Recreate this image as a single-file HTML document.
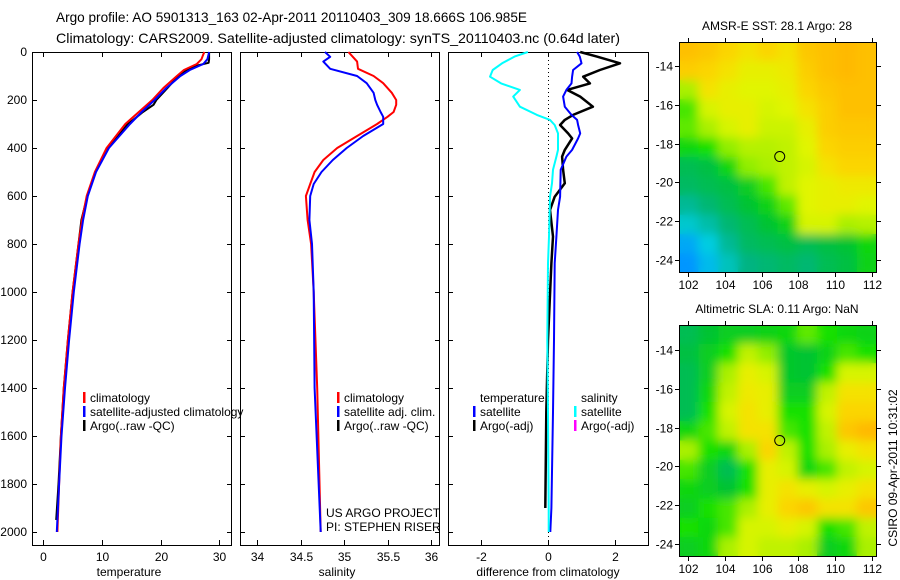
<!DOCTYPE html>
<html><head><meta charset="utf-8"><style>
html,body{margin:0;padding:0;background:#fff;}
svg{display:block;font-family:"Liberation Sans",sans-serif;}
</style></head><body>
<svg id="fig" width="900" height="580" viewBox="0 0 900 580" xmlns="http://www.w3.org/2000/svg">
<defs>
<filter id="blur" x="0" y="0" width="1" height="1"><feGaussianBlur stdDeviation="5" edgeMode="duplicate"/></filter>
<clipPath id="clipA"><rect x="679" y="42" width="198" height="231"/></clipPath>
<clipPath id="clipB"><rect x="679" y="325" width="198" height="232"/></clipPath>
</defs>
<text x="56" y="22" font-size="14" textLength="471" lengthAdjust="spacingAndGlyphs">Argo profile: AO 5901313_163 02-Apr-2011 20110403_309 18.666S 106.985E</text>
<text x="56" y="43" font-size="14" textLength="564" lengthAdjust="spacingAndGlyphs">Climatology: CARS2009. Satellite-adjusted climatology: synTS_20110403.nc (0.64d later)</text>
<g id="g"></g>
</svg>
<script>
// ---- data ----
const tempDepth = [0,10,30,50,75,100,150,200,250,300,400,500,600,700,800,1000,1200,1400,1600,1800,2000];
const tempClim = [27.5,27.3,27,26.2,24,22.8,20.5,18.6,16.3,14,10.8,8.8,7.4,6.6,6,5,4.2,3.5,3,2.7,2.4];
const tempSat = [28.3,28.2,28,27.3,25,23.4,21,19,16.8,14.8,11.2,9,7.6,6.8,6.2,5.2,4.4,3.7,3.1,2.7,2.3];
const argoDepth = [0,10,30,45,55,75,100,150,200,220,250,280,300,350,400,500,600,700,800,1000,1200,1400,1600,1800,1950];
const tempArgo = [28.3,28.3,28.3,28.2,26.5,24.5,23,21.2,19.3,18.8,17,15.5,14.4,12.8,11,8.9,7.5,6.5,6,5,4.2,3.5,3,2.6,2.2];
const salDepth = [0,20,40,70,100,130,170,200,220,250,270,300,350,400,450,500,550,600,700,800,1000,1400,2000];
const salClim = [35.05,35.1,35.15,35.16,35.34,35.45,35.55,35.6,35.6,35.57,35.5,35.38,35.15,34.92,34.76,34.66,34.61,34.56,34.58,34.62,34.65,34.69,34.73];
const salSat = [34.78,34.84,34.76,34.84,35.15,35.26,35.34,35.36,35.38,35.42,35.45,35.45,35.22,35.03,34.87,34.74,34.65,34.61,34.6,34.63,34.65,34.66,34.73];
const diffDepth = [0,19,47,75,103,131,158,186,228,262,283,304,339,360,408,436,491,547,603,658,769,880,1200,1500,1900,2000];
const diffSalSat = [-0.6,-1.0,-1.37,-1.65,-1.73,-1.4,-0.84,-1.04,-0.84,-0.33,0.06,0.2,0.3,0.3,0.3,0.25,0.15,0.12,0.06,0.05,0.03,0.0,-0.02,0.0,0.02,0.02];
const diffTempSat = [0.87,0.95,1.0,0.75,0.72,0.7,0.55,0.45,0.5,0.7,0.87,0.9,0.96,0.9,0.72,0.55,0.38,0.37,0.36,0.3,0.25,0.2,0.18,0.15,0.1,0.07];
const diffTempArgo = [0.96,1.46,2.15,1.55,1.05,1.25,0.57,0.96,1.34,0.75,0.5,0.36,0.6,0.72,0.5,0.42,0.45,0.5,0.2,0.06,0.15,0.1,0.0,-0.05,-0.08,null];
const depthTicks = [0,200,400,600,800,1000,1200,1400,1600,1800,2000];
const tempTicks = [0,10,20,30];
const salTicks = [34,34.5,35,35.5,36];
const salTickLabels = ["34","34.5","35","35.5","36"];
const diffTicks = [-2,0,2];
const latTicks = [-14,-16,-18,-20,-22,-24];
const lonTicks = [102,104,106,108,110,112];
const sstGrid = [
[.69,.68,.66,.64,.66,.64,.68,.69,.70,.69],
[.67,.66,.64,.62,.62,.63,.67,.69,.70,.69],
[.56,.64,.62,.61,.61,.62,.66,.68,.69,.69],
[.52,.60,.62,.62,.60,.61,.64,.67,.69,.69],
[.53,.56,.60,.62,.59,.59,.62,.67,.68,.68],
[.48,.50,.55,.57,.57,.58,.61,.66,.67,.67],
[.42,.43,.48,.55,.56,.58,.60,.64,.66,.66],
[.41,.42,.43,.46,.52,.58,.61,.62,.63,.63],
[.38,.40,.42,.44,.47,.53,.61,.62,.62,.61],
[.35,.37,.40,.42,.44,.47,.60,.60,.56,.57],
[.30,.34,.38,.41,.42,.43,.42,.43,.44,.48],
[.28,.32,.36,.39,.40,.41,.40,.42,.43,.47]];
const slaGrid = [
[.42,.44,.46,.46,.47,.48,.53,.50,.48,.47],
[.43,.46,.50,.58,.55,.45,.44,.47,.52,.50],
[.42,.46,.56,.62,.60,.45,.44,.50,.60,.60],
[.42,.48,.58,.63,.62,.46,.46,.58,.64,.64],
[.42,.50,.60,.64,.62,.50,.50,.60,.66,.66],
[.48,.52,.58,.64,.64,.52,.50,.58,.68,.70],
[.56,.50,.48,.56,.66,.58,.50,.56,.62,.64],
[.52,.46,.42,.50,.62,.60,.48,.52,.58,.60],
[.48,.46,.44,.50,.62,.64,.62,.60,.62,.64],
[.46,.50,.52,.56,.62,.66,.68,.64,.64,.68],
[.50,.48,.52,.60,.60,.62,.60,.50,.52,.58],
[.46,.48,.56,.60,.58,.58,.56,.46,.48,.56]];
const argoLon = 106.985, argoLat = -18.666;

// ---- drawing ----
const NS = "http://www.w3.org/2000/svg";
const G = document.getElementById('g');
function mk(tag, attrs, parent) {
  const e = document.createElementNS(NS, tag);
  for (const k in attrs) e.setAttribute(k, attrs[k]);
  (parent || G).appendChild(e);
  return e;
}
const top0 = 52, bot0 = 545;
const yD = d => 52 + d * 0.24;
const xT = t => 43.3 + t * 5.86;
const xS = s => 257.3 + (s - 34) * 86.8;
const xDf = v => 548 + v * 33.5;

function panel(name, x0, x1) {
  const r = mk('rect', {x:x0+0.5, y:top0+0.5, width:x1-x0, height:bot0-top0, fill:'none', stroke:'#000', 'stroke-width':1});
  
  
  depthTicks.forEach(d => {
    const y = Math.round(yD(d)) + 0.5;
    const t1 = mk('line', {x1:x0, x2:x0+5, y1:y, y2:y, stroke:'#000'});
    
    
    const t2 = mk('line', {x1:x1-4, x2:x1+1, y1:y, y2:y, stroke:'#000'});
    
    
  });
}
function xticks(ticks, labels, fx, xlabel, cx) {
  ticks.forEach((v, i) => {
    const x = Math.round(fx(v)) + 0.5;
    const a = mk('line', {x1:x, x2:x, y1:bot0, y2:bot0-5, stroke:'#000'});
    
    
    const b = mk('line', {x1:x, x2:x, y1:top0, y2:top0+5, stroke:'#000'});
    
    
    const t = mk('text', {x:x, y:561, 'font-size':12, 'text-anchor':'middle'});
    t.textContent = labels[i];
    
    
  });
  const l = mk('text', {x:cx, y:576, 'font-size':12, 'text-anchor':'middle'});
  l.textContent = xlabel;
  
  
}
function series(name, depths, vals, fx, color, w) {
  let d = '';
  vals.forEach((v, i) => {
    if (v === null) return;
    d += (d ? 'L' : 'M') + fx(v).toFixed(1) + ',' + yD(depths[i]).toFixed(1);
  });
  const p = mk('path', {d:d, fill:'none', stroke:color, 'stroke-width':w, 'stroke-linejoin':'round'});
  
  
}
function legend(x, y, items) {
  items.forEach((it, i) => {
    const yy = y + i * 14;
    if (it.c) {
      const b = mk('rect', {x:x, y:yy-10, width:2.5, height:11, fill:it.c});
      
      
    }
    const t = mk('text', {x:x+7, y:yy, 'font-size':12});
    t.textContent = it.t;
    
    
  });
}

// panel 1 temperature
panel('temperature-panel', 32, 231);
depthTicks.forEach(d => {
  const t = mk('text', {x:27, y:yD(d)+4, 'font-size':12, 'text-anchor':'end'});
  t.textContent = d;
  
  
});
xticks(tempTicks, tempTicks.map(String), xT, 'temperature', 129);
series('temp-argo-line', argoDepth, tempArgo, xT, '#000', 2);
series('temp-climatology-line', tempDepth, tempClim, xT, '#f00', 2);
series('temp-satellite-line', tempDepth, tempSat, xT, '#00f', 2);
legend(83, 402, [{c:'#f00',t:'climatology'},{c:'#00f',t:'satellite-adjusted climatology'},{c:'#000',t:'Argo(..raw -QC)'}]);

// panel 2 salinity
panel('salinity-panel', 240, 439);
xticks(salTicks, salTickLabels, xS, 'salinity', 337);
series('sal-climatology-line', salDepth, salClim, xS, '#f00', 2);
series('sal-satellite-line', salDepth, salSat, xS, '#00f', 2);
legend(337, 402, [{c:'#f00',t:'climatology'},{c:'#00f',t:'satellite adj. clim.'},{c:'#000',t:'Argo(..raw -QC)'}]);
const c1 = mk('text', {x:326, y:517, 'font-size':12}); c1.textContent = 'US ARGO PROJECT';


const c2 = mk('text', {x:326, y:531, 'font-size':12}); c2.textContent = 'PI: STEPHEN RISER';



// panel 3 difference
panel('difference-panel', 448, 648);
xticks(diffTicks, diffTicks.map(String), xDf, 'difference from climatology', 548);
const zl = mk('line', {x1:548.5, x2:548.5, y1:top0, y2:bot0, stroke:'#000', 'stroke-dasharray':'1,3'});


series('diff-temp-argo-line', diffDepth, diffTempArgo, xDf, '#000', 2.5);
series('diff-temp-satellite-line', diffDepth, diffTempSat, xDf, '#00f', 2);
series('diff-sal-satellite-line', diffDepth, diffSalSat, xDf, '#0ff', 2);
legend(473, 402, [{c:null,t:'temperature'},{c:'#00f',t:'satellite'},{c:'#000',t:'Argo(-adj)'}]);
legend(574, 402, [{c:null,t:'salinity'},{c:'#0ff',t:'satellite'},{c:'#f0f',t:'Argo(-adj)'}]);

// maps
const cmapStops = [
  [0.28,[0,150,255]],[0.34,[0,205,225]],[0.39,[0,180,130]],[0.44,[0,195,50]],
  [0.50,[20,225,0]],[0.56,[170,240,0]],[0.61,[225,245,0]],[0.65,[250,220,0]],[0.70,[255,185,0]]];
function cmap(v) {
  if (v <= cmapStops[0][0]) return 'rgb(' + cmapStops[0][1].join(',') + ')';
  for (let i = 1; i < cmapStops.length; i++) {
    if (v <= cmapStops[i][0]) {
      const [a, ca] = cmapStops[i-1], [b, cb] = cmapStops[i];
      const f = (v - a) / (b - a);
      return 'rgb(' + ca.map((c, k) => Math.round(c + (cb[k] - c) * f)).join(',') + ')';
    }
  }
  return 'rgb(' + cmapStops[cmapStops.length-1][1].join(',') + ')';
}
function map(name, grid, top, bottom, yLat14, title, clipId) {
  const x0 = 679, x1 = 877;
  const fxL = lon => 688 + (lon - 102) * 18.4;
  const fyL = lat => yLat14 + (-14 - lat) * 19.4;
  const rows = grid.length, cols = grid[0].length;
  const cw = (x1 - x0) / cols, ch = (bottom - top) / rows;
  const grp = mk('g', {'clip-path':'url(#' + clipId + ')'});
  
  
  const base = mk('g', {}, grp);
  const bl = mk('g', {filter:'url(#blur)'}, grp);
  grid.forEach((row, r) => row.forEach((v, c) => {
    [base, bl].forEach(p => {
      const cell = mk('rect', {x:x0 + c*cw - 0.5, y:top + r*ch - 0.5, width:cw+1, height:ch+1, fill:cmap(v)}, p);
      
      
    });
  }));
  const fr = mk('rect', {x:x0+0.5, y:top+0.5, width:x1-x0-1, height:bottom-top-1, fill:'none', stroke:'#000'});
  
  
  latTicks.forEach(l => {
    const y = Math.round(fyL(l)) + 0.5;
    const a = mk('line', {x1:x0-4, x2:x0, y1:y, y2:y, stroke:'#000'});
    
    
    const b = mk('line', {x1:x1, x2:x1+4, y1:y, y2:y, stroke:'#000'});
    
    
    const t = mk('text', {x:x0-6, y:y+4, 'font-size':12, 'text-anchor':'end'});
    t.textContent = l;
    
    
  });
  lonTicks.forEach(l => {
    const x = Math.round(fxL(l)) + 0.5;
    const a = mk('line', {x1:x, x2:x, y1:top-4, y2:top, stroke:'#000'});
    
    
    const b = mk('line', {x1:x, x2:x, y1:bottom, y2:bottom+4, stroke:'#000'});
    
    
    const t = mk('text', {x:x, y:bottom+16, 'font-size':12, 'text-anchor':'middle'});
    t.textContent = l;
    
    
  });
  const ci = mk('circle', {cx:fxL(argoLon), cy:fyL(argoLat), r:5, fill:'none', stroke:'#000'});
  
  
  const tt = mk('text', {x:777, y:top-12, 'font-size':12, 'text-anchor':'middle'});
  tt.textContent = title;
  
  
}
map('sst-map', sstGrid, 42, 273, 66, 'AMSR-E SST: 28.1 Argo: 28', 'clipA');
map('sla-map', slaGrid, 325, 557, 350, 'Altimetric SLA: 0.11 Argo: NaN', 'clipB');
const cs = mk('text', {x:0, y:0, 'font-size':12, 'text-anchor':'middle', transform:'translate(897,468) rotate(-90)'});
cs.textContent = 'CSIRO 09-Apr-2011 10:31:02';


</script>
</body></html>
